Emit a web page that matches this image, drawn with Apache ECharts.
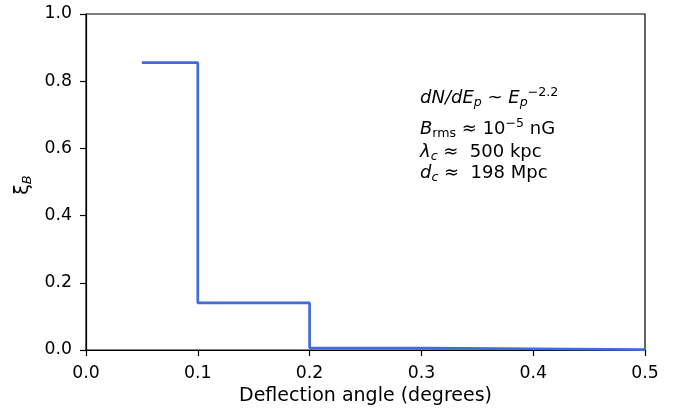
<!DOCTYPE html>
<html><head><meta charset="utf-8">
<script src="https://cdn.jsdelivr.net/npm/echarts@6/dist/echarts.min.js"></script>
<style>html,body{margin:0;padding:0;background:#fff}#c{width:683px;height:412px}</style>
</head><body><div id="c"></div>
<script>
const stepX = [0.05, 0.1, 0.2, 0.3, 0.5];
const stepY = [0.855, 0.14, 0.006, 0.001, 0.001];
const xTicks = [0.0, 0.1, 0.2, 0.3, 0.4, 0.5];
const yTicks = [0.0, 0.2, 0.4, 0.6, 0.8, 1.0];
const xLabel = 'Deflection angle (degrees)';

const F = 'DejaVu Sans';
const chart = echarts.init(document.getElementById('c'), null, {renderer: 'canvas'});
const FS = 18, SS = 12.6;
const main = {fontFamily: F, fontSize: FS, color: '#000'};
const it = {fontFamily: F, fontSize: FS, fontStyle: 'italic', color: '#000'};
const sub = {fontFamily: F, fontSize: SS, fontStyle: 'italic', color: '#000', padding: [9, 0, 0, 0]};
const subN = {fontFamily: F, fontSize: SS, color: '#000', padding: [9, 0, 0, 0]};
const sup = {fontFamily: F, fontSize: SS, color: '#000', padding: [0, 0, 12, 0]};

chart.setOption({
  animation: false,
  grid: {left: 86, right: 38, top: 14, bottom: 62, show: true, borderColor: '#000', borderWidth: 1.2},
  xAxis: {
    type: 'value', min: 0, max: 0.5, interval: 0.1,
    name: xLabel, nameLocation: 'middle', nameGap: 29,
    nameTextStyle: {fontFamily: F, fontSize: 19, color: '#000'},
    axisLine: {show: true, lineStyle: {color: '#000', width: 1.2}},
    axisTick: {show: true, length: 6, lineStyle: {color: '#000', width: 1.2}},
    axisLabel: {fontFamily: F, fontSize: 17.3, color: '#000', margin: 15,
      formatter: v => xTicks.find(t => Math.abs(t - v) < 1e-9).toFixed(1)},
    splitLine: {show: false}
  },
  yAxis: {
    type: 'value', min: 0, max: 1.0, interval: 0.2,
    axisLine: {show: true, lineStyle: {color: '#000', width: 1.2}},
    axisTick: {show: true, length: 6, lineStyle: {color: '#000', width: 1.2}},
    axisLabel: {fontFamily: F, fontSize: 17.3, color: '#000', margin: 14,
      formatter: v => yTicks.find(t => Math.abs(t - v) < 1e-9).toFixed(1)},
    splitLine: {show: false}
  },
  series: [{
    type: 'line', step: 'end', symbol: 'none',
    data: stepX.map((x, i) => [x, stepY[i]]),
    lineStyle: {color: '#4169E1', width: 2.7}
  }],
  graphic: [
    {type: 'text', x: 23, y: 185, rotation: Math.PI / 2,
      style: {text: '{g|ξ}{s|B}', align: 'center', verticalAlign: 'middle',
        rich: {g: {fontFamily: F, fontSize: 19, color: '#000'}, s: {fontFamily: F, fontSize: 13, fontStyle: 'italic', color: '#000', padding: [9,0,0,0]}}}},
    {type: 'text', x: 420, y: 86, style: {
      text: '{i|dN/dE}{s|p}{m| ~ }{i|E}{s|p}{u|−2.2}', rich: {i: it, s: sub, m: main, u: sup}}},
    {type: 'text', x: 420, y: 117, style: {
      text: '{i|B}{n|rms}{m| ≈ 10}{u|−5}{m| nG}', rich: {i: it, n: subN, m: main, u: sup}}},
    {type: 'text', x: 420, y: 141, style: {
      text: '{i|λ}{s|c}{m| ≈  500 kpc}', rich: {i: it, s: sub, m: main}}},
    {type: 'text', x: 420, y: 162, style: {
      text: '{i|d}{s|c}{m| ≈  198 Mpc}', rich: {i: it, s: sub, m: main}}}
  ]
});
</script></body></html>
